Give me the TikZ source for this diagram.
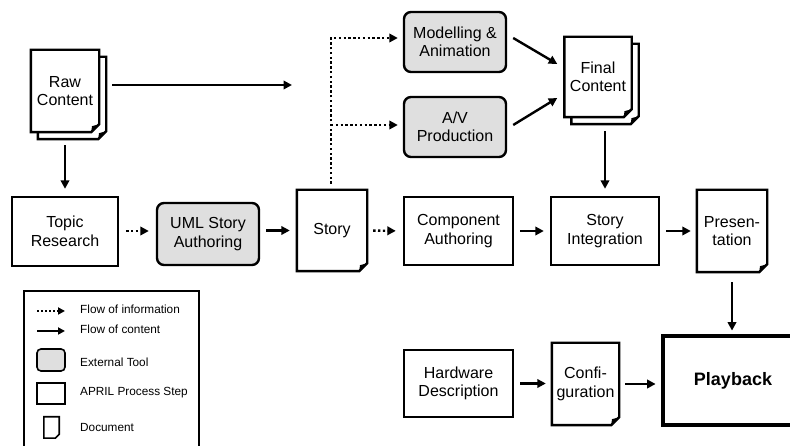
\documentclass[tikz,border=0pt]{standalone}
\usepackage{fontspec}
\setmainfont{Liberation Sans}
\usetikzlibrary{arrows.meta,calc}
\pgfdeclarelayer{background}
\pgfsetlayers{background,main}

\tikzset{
  txt/.style={align=center, inner sep=0pt, font=\fontsize{16}{18.5}\selectfont},
  stepbox/.style={txt, draw, line width=2.4pt, rectangle},
  toolbox/.style={txt, draw, line width=2.4pt, rounded corners=7pt, fill=gray!25},
  docbox/.style={txt},
  flow/.style={line width=2.4pt, -{Triangle[length=8.5pt,width=8.5pt]}, shorten >=6pt, shorten <=6pt},
  info/.style={flow, dash pattern=on 2.4pt off 2.4pt},
  docline/.style={line width=2.4pt, line join=miter, fill=white},
  legtxt/.style={anchor=west, inner sep=0pt, font=\fontsize{11.8}{13.5}\selectfont},
}

% #1 node, #2 dx, #3 dy, #4 fold
\newcommand{\docsheet}[4]{%
  \draw[docline] ($(#1.north west)+(#2,#3)$) -- ($(#1.north east)+(#2,#3)$)
     -- ($(#1.south east)+(#2,#3)+(0,#4)$) -- ($(#1.south east)+(#2,#3)+(-#4,0)$)
     -- ($(#1.south west)+(#2,#3)$) -- cycle;
  \fill ($(#1.south east)+(#2,#3)+(0,#4)$) -- ($(#1.south east)+(#2,#3)+(-#4,0)$)
     -- ($(#1.south east)+(#2,#3)+(-#4+0.8,#4-2)$) -- cycle;
}

\begin{document}
\begin{tikzpicture}[x=1pt,y=1pt]
\useasboundingbox (0,0) rectangle (790,446);
\clip (0,0) rectangle (790,446);

% ---- nodes ----
\node[docbox, minimum width=68pt, minimum height=82pt] (raw) at (65,355) {Raw\\Content};
\node[stepbox, minimum width=106pt, minimum height=69pt] (topic) at (65,214.5) {Topic\\Research};
\node[toolbox, minimum width=102pt, minimum height=62pt] (uml) at (208,212) {UML Story\\Authoring};
\node[docbox, minimum width=70pt, minimum height=81pt] (story) at (332,215.5) {Story};
\node[stepbox, minimum width=109pt, minimum height=68pt] (comp) at (458.5,215) {Component\\Authoring};
\node[stepbox, minimum width=108pt, minimum height=68pt] (integ) at (605,215) {Story\\Integration};
\node[docbox, minimum width=70pt, minimum height=82pt] (pres) at (732,215) {Presen-\\tation};
\node[toolbox, minimum width=102pt, minimum height=60pt] (mod) at (455,404) {Modelling \&\\Animation};
\node[toolbox, minimum width=102pt, minimum height=60pt] (av) at (455,319) {A/V\\Production};
\node[docbox, minimum width=67pt, minimum height=80pt] (final) at (598,369) {Final\\Content};
\node[stepbox, minimum width=109pt, minimum height=67pt] (hw) at (458.5,62.5) {Hardware\\Description};
\node[docbox, minimum width=67pt, minimum height=82pt] (conf) at (585.5,62) {Confi-\\guration};
\node[txt, draw, line width=4.8pt, minimum width=140pt, minimum height=89pt,
      font=\fontsize{18}{21}\selectfont\bfseries] (play) at (733,65.5) {Playback};

% ---- document outlines ----
\begin{pgfonlayer}{background}
  \docsheet{raw}{7}{-7}{8}
  \docsheet{raw}{0}{0}{8}
  \docsheet{final}{7}{-7}{8}
  \docsheet{final}{0}{0}{8}
  \docsheet{story}{0}{0}{8}
  \docsheet{pres}{0}{0}{8}
  \docsheet{conf}{0}{0}{8}
\end{pgfonlayer}

% ---- connectors ----
\coordinate (rawend) at (298,361);
\draw[flow] ($(raw.east)+(7,6)$) -- (rawend);
\draw[flow, shorten <=13pt, shorten >=7pt] (raw.south) -- (topic.north);
\draw[info, shorten >=7pt, shorten <=7pt] (topic.east |- 0,215) -- (uml.west |- 0,215);
\draw[flow, shorten >=7pt] (uml.east |- story.west) -- (story.west);
\draw[info, shorten >=7pt] (story.east) -- (comp.west);
\draw[flow] (comp.east) -- (integ.west);
\draw[flow] (integ.east) -- (pres.west);
\draw[flow] (hw.east) -- (conf.west |- hw.east);
\draw[flow, shorten >=5pt] (conf.east) -- (play.west |- conf.east);

\coordinate (j1) at (331,408);
\coordinate (j2) at (331,321);
\draw[info, shorten >=5pt] ($(story.north)+(-1,0)$) -- (j1) -- (mod.west |- j1);
\draw[info, shorten <=0pt, shorten >=5pt] (j2) -- (av.west |- j2);

\draw[flow, shorten <=0pt, shorten >=0pt] ($(mod.east)+(6,4)$) -- ($(final.west)+(-7,13)$);
\draw[flow, shorten <=0pt, shorten >=0pt] ($(av.east)+(6,2)$) -- ($(final.west)+(-7,-21)$);

\draw[flow, shorten <=0pt, shorten >=7pt] ($(integ.north |- final.south)+(0,-14)$) -- (integ.north);
\draw[flow, shorten <=10pt, shorten >=3pt] (pres.south) -- (play.north -| pres.south);

% ---- legend ----
\draw[line width=1.6pt] (24,155) rectangle (199,-10);
\coordinate (l1a) at (37,135); \coordinate (l1b) at (65,135);
\coordinate (l2a) at (37,115); \coordinate (l2b) at (65,115);
\draw[line width=2pt, dash pattern=on 2pt off 2pt, -{Triangle[length=7pt,width=7pt]}] (l1a) -- (l1b);
\draw[line width=2pt, -{Triangle[length=7pt,width=7pt]}] (l2a) -- (l2b);
\node[draw, line width=1.6pt, rounded corners=4pt, fill=gray!25, minimum width=28pt, minimum height=22pt, inner sep=0pt] (ltool) at (51,86) {};
\node[draw, line width=1.6pt, minimum width=28pt, minimum height=21pt, inner sep=0pt] (lstep) at (51,52.5) {};
\node[minimum width=15pt, minimum height=21pt, inner sep=0pt] (ldoc) at (51.5,18.5) {};
\begin{pgfonlayer}{background}
  \draw[line width=1.6pt, line join=miter, fill=white] (ldoc.north west) -- (ldoc.north east) -- ($(ldoc.south east)+(0,4)$) -- ($(ldoc.south east)+(-4,0)$) -- (ldoc.south west) -- cycle;
\end{pgfonlayer}
\node[legtxt] (t1) at (80,137) {Flow of information};
\node[legtxt] (t2) at (80,117) {Flow of content};
\node[legtxt] (t3) at (80,84) {External Tool};
\node[legtxt] (t4) at (80,53) {APRIL Process Step};
\node[legtxt] (t5) at (80,18) {Document};
\end{tikzpicture}
\end{document}
